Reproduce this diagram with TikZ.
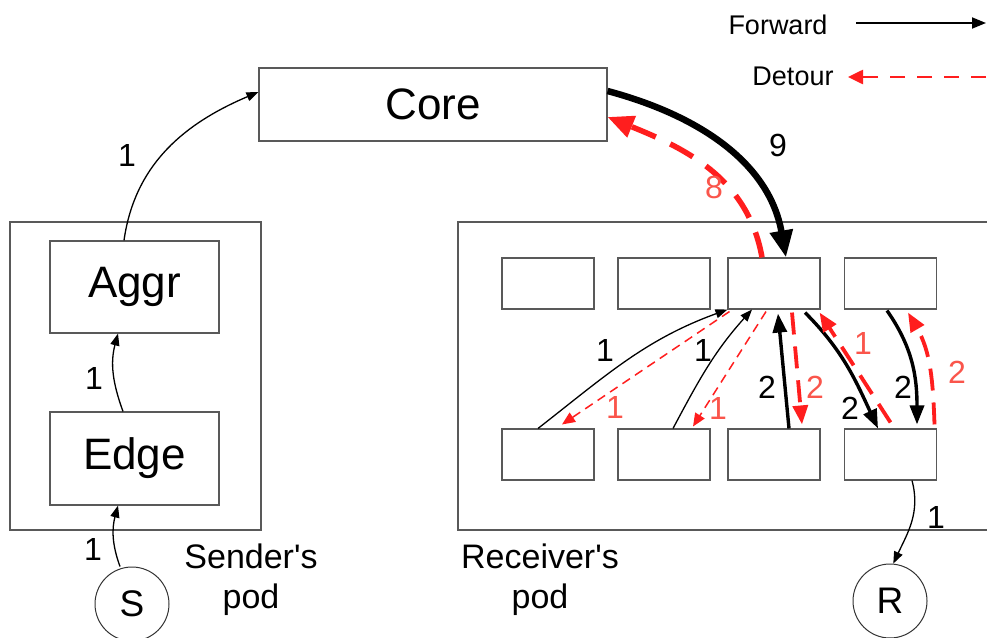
\documentclass[tikz,border=0pt]{standalone}
\usepackage{fontspec}
\setmainfont{Liberation Sans}[Ligatures=TeXOff]
\usetikzlibrary{arrows.meta}
\definecolor{dred}{RGB}{255,30,30}
\definecolor{lred}{RGB}{250,85,75}
\begin{document}
\begin{tikzpicture}[x=1pt,y=1pt,
  box/.style={draw=black!65, line width=1.1pt, fill=white, inner sep=0pt},
  sw/.style={box, rectangle, minimum width=92, minimum height=51},
  big/.style={font=\fontsize{44}{48}\selectfont},
  podlab/.style={font=\fontsize{34}{40}\selectfont, align=center},
  num/.style={font=\fontsize{32}{34}\selectfont, inner sep=0pt},
  rnum/.style={num, text=lred},
  fthin/.style={line width=1.3pt, -{Triangle[length=12pt,width=9pt]}},
  fthick/.style={line width=3.4pt, -{Triangle[length=19pt,width=14pt]}},
  fcore/.style={line width=6.5pt, -{Triangle[length=27pt,width=22pt]}},
  dthin/.style={draw=dred, line width=1.5pt, dash pattern=on 9pt off 6pt, -{Triangle[length=13pt,width=11pt]}},
  dthick/.style={draw=dred, line width=3.8pt, dash pattern=on 22pt off 12pt, -{Triangle[length=19pt,width=15pt]}},
  dcore/.style={draw=dred, line width=5.5pt, dash pattern=on 26pt off 16pt, -{Triangle[length=26pt,width=22pt]}},
  host/.style={circle, draw=black!80, line width=1pt, minimum size=74, inner sep=0pt, font=\fontsize{37}{40}\selectfont}
]
\useasboundingbox[fill=white] (0,0) rectangle (987,-637);

% pods
\node[box, minimum width=251, minimum height=308] (spod) at (135.5,-376) {};
\draw[draw=black!65, line width=1.1pt] (987,-222) -- (458,-222) -- (458,-530) -- (987,-530);

% switches
\node[box, big, minimum width=348, minimum height=73] (core) at (433,-104.5) {Core};
\node[box, big, minimum width=169, minimum height=92] (aggr) at (134.5,-287) {Aggr};
\node[box, big, minimum width=169, minimum height=93] (edge) at (134.5,-458.5) {Edge};

\node[sw] (t1) at (548,-283.5) {};
\node[sw] (t2) at (664,-283.5) {};
\node[sw] (t3) at (774,-283.5) {};
\node[sw] (t4) at (890.5,-283.5) {};
\node[sw] (b1) at (548,-454.5) {};
\node[sw] (b2) at (664,-454.5) {};
\node[sw] (b3) at (774,-454.5) {};
\node[sw] (b4) at (890.5,-454.5) {};

\node[host] (S) at (132,-604) {S};
\node[host] (R) at (890,-601) {R};

\node[podlab] (slab) at (251,-580) {Sender's\\pod};
\node[podlab] (rlab) at (540,-580) {Receiver's\\pod};

% sender side
\draw[fthin] ([xshift=-12]S.north) to[out=110,in=255] ([xshift=-16.5]edge.south);
\draw[fthin] ([xshift=-11.5]edge.north) to[out=110,in=255] ([xshift=-16.5]aggr.south);
\draw[fthin] ([xshift=-10.5]aggr.north) to[out=82,in=203] ([yshift=12.5]core.west);
\node[num] (n1) at (93,-549) {1};
\node[num] (n2) at (94,-378) {1};
\node[num] (n3) at (127,-155) {1};

% core <-> receiver pod
\draw[fcore] ([yshift=13.5]core.east) to[out=-15,in=100] ([xshift=12]t3.north);
\draw[dcore] ([xshift=-12]t3.north) to[out=100,in=-22] ([yshift=-12.5]core.east);
\node[num] (n9) at (778,-145) {9};
\node[rnum] (n8) at (714,-187) {8};

% inside receiver pod
\draw[fthin] ([xshift=-10]b1.north) to[out=38,in=200] (t3.south west);
\draw[dthin] ([xshift=2,yshift=-2]t3.south west) -- ([xshift=14,yshift=4]b1.north);
\draw[fthin] ([xshift=9]b2.north) to[out=62,in=228] ([xshift=-22]t3.south);
\draw[dthin] ([xshift=-8,yshift=-2]t3.south) -- ([xshift=29,yshift=2]b2.north);
\draw[fthick] ([xshift=15]b3.north) -- ([xshift=4,yshift=-4]t3.south);
\draw[dthick] ([xshift=18,yshift=-3]t3.south) -- ([xshift=28,yshift=4]b3.north);
\draw[fthick] ([xshift=31,yshift=-3]t3.south) to[out=-45,in=115] ([xshift=-12.5]b4.north);
\draw[dthick] ([xshift=0,yshift=6]b4.north) -- ([xshift=-1,yshift=-3]t3.south east);
\draw[fthick] ([xshift=-3.5,yshift=-1]t4.south) to[out=-55,in=90] ([xshift=26.5,yshift=4]b4.north);
\draw[dthick] ([xshift=44,yshift=4]b4.north) to[out=92,in=-60] ([xshift=17.5,yshift=-3]t4.south);

\node[num] (a1) at (605,-350) {1};
\node[rnum] (r1) at (615,-407) {1};
\node[num] (a2) at (703,-350) {1};
\node[rnum] (r2) at (718,-408) {1};
\node[num] (a3) at (767,-387) {2};
\node[rnum] (r3) at (815,-387) {2};
\node[num] (a4) at (850,-408) {2};
\node[rnum] (r4) at (863,-343) {1};
\node[num] (a5) at (903,-387) {2};
\node[rnum] (r5) at (957,-372) {2};

% to receiver
\draw[fthin] ([xshift=21.5]b4.south) to[out=-75,in=65] (R.85);
\node[num] (n10) at (936,-517) {1};

% legend
\node[font=\fontsize{27}{30}\selectfont] (fw) at (778,-25) {Forward};
\node[font=\fontsize{27}{30}\selectfont] (dt) at (793,-76) {Detour};
\coordinate (fwa) at (856,-23);
\coordinate (fwb) at (986,-23);
\coordinate (dta) at (986,-77);
\coordinate (dtb) at (848,-77);
\draw[line width=1.8pt, -{Triangle[length=14pt,width=11pt]}] (fwa) -- (fwb);
\draw[draw=dred, line width=2.6pt, dash pattern=on 15pt off 12pt, -{Triangle[length=15pt,width=14pt]}] (dta) -- (dtb);
\end{tikzpicture}
\end{document}
